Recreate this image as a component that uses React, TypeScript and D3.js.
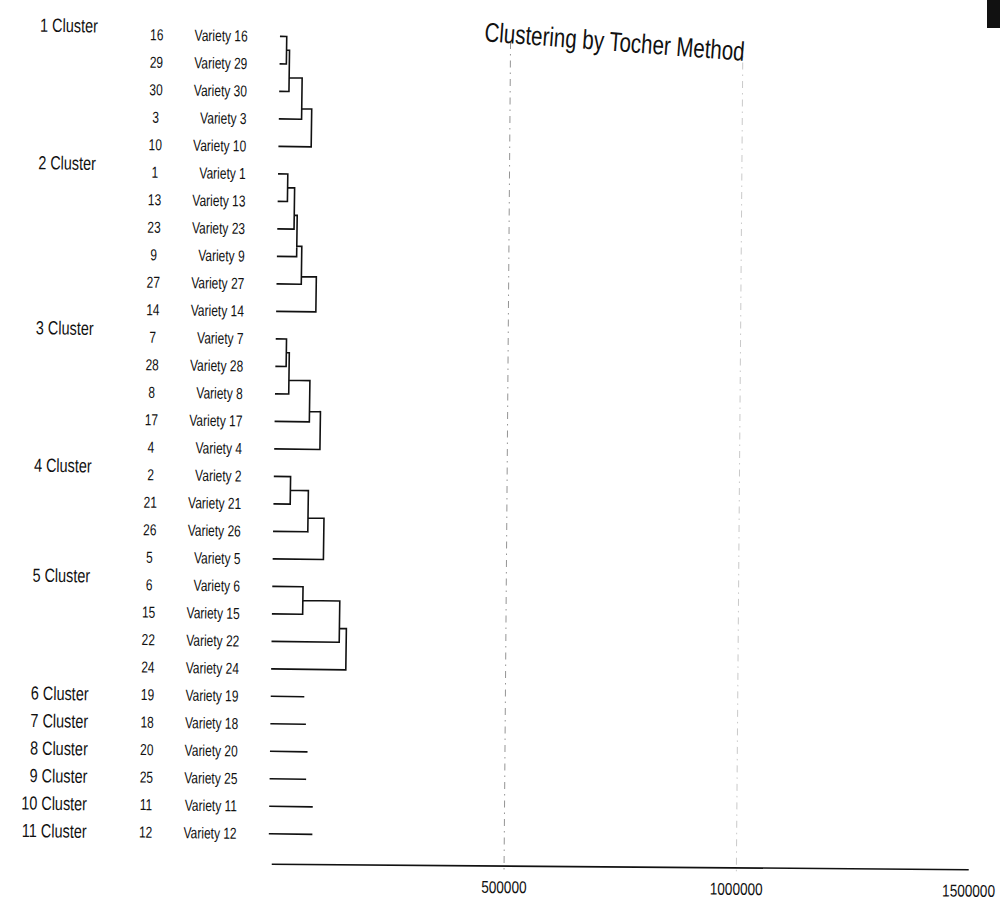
import React from 'react'
import * as d3 from 'd3'

// clusters from the Tocher grouping, top to bottom
const clusterNames = [
  '1 Cluster', '2 Cluster', '3 Cluster', '4 Cluster', '5 Cluster', '6 Cluster',
  '7 Cluster', '8 Cluster', '9 Cluster', '10 Cluster', '11 Cluster',
]
const clusterMembers = [
  [16, 29, 30, 3, 10],
  [1, 13, 23, 9, 27, 14],
  [7, 28, 8, 17, 4],
  [2, 21, 26, 5],
  [6, 15, 22, 24],
  [19],
  [18],
  [20],
  [25],
  [11],
  [12],
]
// distance at which each next member joins (singletons: length of their stub)
const mergeHeights = [
  [12900, 19300, 47300, 68800],
  [19300, 34400, 40800, 51600, 83800],
  [21500, 27900, 73100, 96700],
  [34400, 73100, 107500],
  [64500, 144000, 159000],
  [68800],
  [73100],
  [77400],
  [75200],
  [90300],
  [90300],
]
const axisTicks = [500000, 1000000, 1500000]
const title = 'Clustering by Tocher Method'

const width = 1000
const height = 901
const font = '"Liberation Sans", Arial, sans-serif'

const App = () => {
  const leafOrder = clusterMembers.flat()
  const x = d3.scaleLinear().domain([0, 1500000]).range([275, 972])
  const y = d3.scalePoint<number>().domain(leafOrder).range([39.5, 837])
  const baseY = 866

  // build the dendrogram as one path
  const path = d3.path()
  const seg = (x1: number, y1: number, x2: number, y2: number) => {
    path.moveTo(x1, y1)
    path.lineTo(x2, y2)
  }
  clusterMembers.forEach((members, ci) => {
    const hs = mergeHeights[ci]
    const y0 = y(members[0])!
    seg(x(0), y0, x(hs[0]), y0)
    let prevY = y0
    let prevX = x(hs[0])
    let n = 1
    for (let k = 1; k < members.length; k++) {
      const hx = x(hs[k - 1])
      const ly = y(members[k])!
      seg(x(0), ly, hx, ly)
      if (k > 1) seg(prevX, prevY, hx, prevY)
      seg(hx, prevY, hx, ly)
      // the joined node sits closer to the newly added leaf
      prevY = (prevY + n * ly) / (n + 1)
      n++
      prevX = hx
    }
  })

  return (
    <svg
      width={width}
      height={height}
      style={{ position: 'absolute', left: 0, top: 0, background: '#fff' }}
      fontFamily={font}
    >
      <rect x={0} y={0} width={width} height={height} fill='#fff' />
      <rect x={987} y={0} width={13} height={28} fill='#111' />

      {/* axis part, scanned with a little tilt */}
      <g transform='rotate(0.45, 500, 450)'>
        {axisTicks.slice(0, 2).map((t, i) => (
          <line
            key={t}
            x1={x(t)}
            x2={x(t)}
            y1={42}
            y2={baseY + 6}
            stroke='#888'
            strokeOpacity={i === 0 ? 0.9 : 0.45}
            strokeDasharray='7 5 1.5 5'
          />
        ))}
        <line x1={x(0)} x2={x(1500000)} y1={baseY} y2={baseY} stroke='#111' strokeWidth={1.6} />
        {axisTicks.map((t) => (
          <text
            key={t}
            transform={`translate(${x(t)},${baseY + 21}) scale(0.8,1)`}
            textAnchor='middle'
            dy='0.35em'
            fontSize={17}
            fill='#111'
          >
            {t}
          </text>
        ))}
      </g>

      <g transform='rotate(0.8, 500, 450)'>
        <text
          transform={`translate(609,40) rotate(3.5) scale(0.76,1)`}
          textAnchor='middle'
          dy='0.35em'
          fontSize={27}
          fill='#111'
        >
          {title}
        </text>

        {/* cluster labels */}
        {clusterMembers.map((members, ci) => (
          <text
            key={clusterNames[ci]}
            transform={`translate(92,${y(members[0])! - (members.length > 1 ? 8 : 0)}) scale(0.76,1)`}
            textAnchor='end'
            dy='0.35em'
            fontSize={19}
            fill='#111'
          >
            {clusterNames[ci]}
          </text>
        ))}

        {/* leaf labels */}
        {leafOrder.map((id) => (
          <g key={id}>
            <text
              transform={`translate(151,${y(id)}) scale(0.75,1)`}
              textAnchor='middle'
              dy='0.35em'
              fontSize={16}
              fill='#111'
            >
              {id}
            </text>
            <text
              transform={`translate(242,${y(id)}) scale(0.75,1)`}
              textAnchor='end'
              dy='0.35em'
              fontSize={16}
              fill='#111'
            >
              {`Variety ${id}`}
            </text>
          </g>
        ))}

        <path d={path.toString()} fill='none' stroke='#111' strokeWidth={1.6} strokeLinecap='square' />
      </g>
    </svg>
  )
}

export default App
